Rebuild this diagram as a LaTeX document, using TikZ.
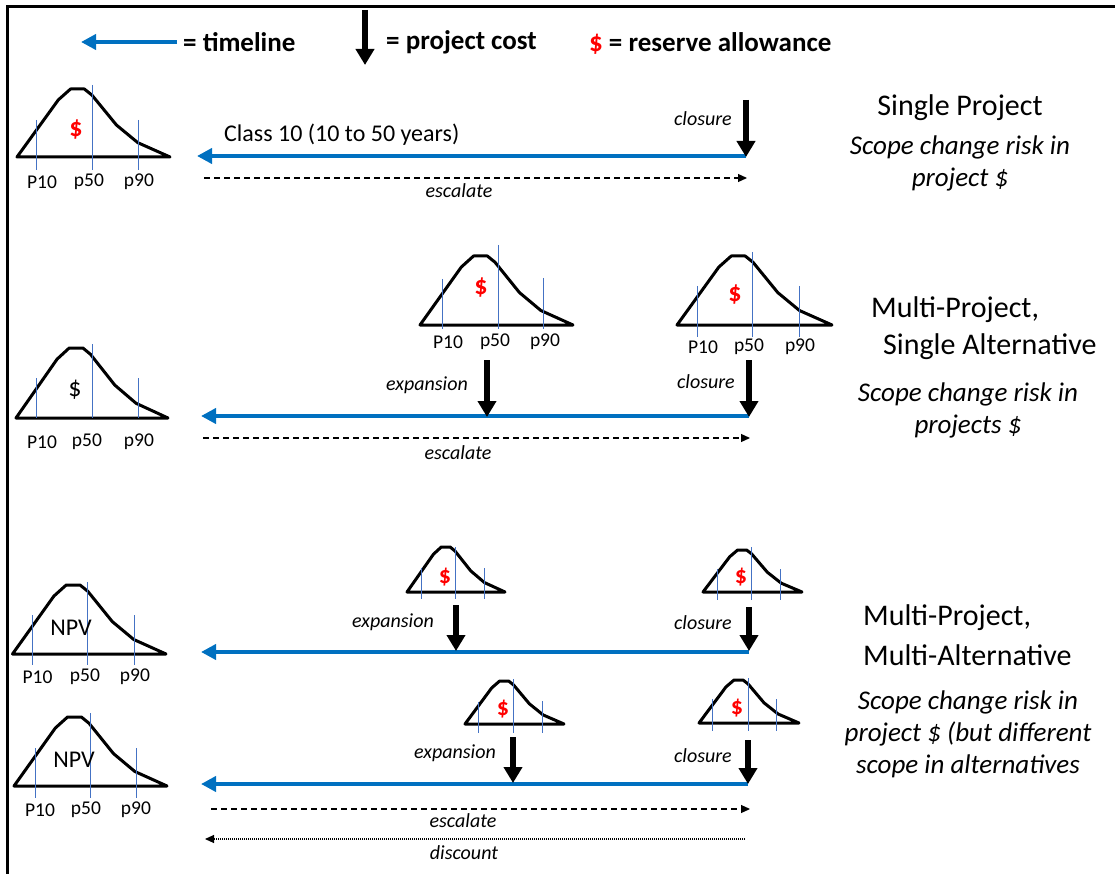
\documentclass[tikz,border=0pt]{standalone}
\usepackage{fontspec}
\setmainfont{Carlito}
\usetikzlibrary{arrows.meta}
\definecolor{tlblue}{RGB}{0,112,192}
\definecolor{pctblue}{RGB}{68,114,196}
\definecolor{resred}{RGB}{255,0,0}

\tikzset{
  frame/.style={line width=3pt, black},
  bell/.style={draw=black, line width=3pt, line join=round},
  pct/.style={draw=pctblue, line width=1pt},
  timeline/.style={draw=tlblue, line width=4.5pt, -{Triangle[length=15pt,width=15pt]}},
  cost/.style={draw=black, line width=5.5pt, -{Triangle[length=16pt,width=18pt]}},
  escal/.style={draw=black, line width=1.2pt, dash pattern=on 6pt off 4pt, -{Triangle[length=9pt,width=8pt]}},
  disc/.style={draw=black, line width=1.1pt, dash pattern=on 1pt off 1pt, -{Triangle[length=9pt,width=8pt]}},
  lbl/.style={inner sep=0pt, font=\fontsize{19.5}{22}\selectfont},
  ital/.style={inner sep=0pt, font=\itshape\fontsize{20}{24}\selectfont},
  title/.style={inner sep=0pt, font=\fontsize{30}{36}\selectfont},
  subt/.style={inner sep=0pt, align=center, font=\itshape\fontsize{27}{32}\selectfont},
  legend/.style={inner sep=0pt, font=\bfseries\fontsize{27}{32}\selectfont},
  reddollar/.style={inner sep=0pt, text=resred, font=\bfseries\fontsize{26}{30}\selectfont},
  smalldollar/.style={inner sep=0pt, text=resred, font=\bfseries\fontsize{24}{28}\selectfont},
  npv/.style={inner sep=0pt, font=\fontsize{24}{28}\selectfont},
}

% skewed bell curve: left end of base (x), base level (y), width, height
\newcommand{\bellshape}[4]{%
  \draw[bell] (#1,#2) -- (#1+0.27*#3,#2-0.84*#4) -- (#1+0.35*#3,#2-#4)
    -- (#1+0.44*#3,#2-#4) -- (#1+0.49*#3,#2-0.91*#4) -- (#1+0.65*#3,#2-0.47*#4)
    -- (#1+0.79*#3,#2-0.21*#4) -- (#1+#3,#2) -- cycle;}
% thin percentile marker: x, top, bottom
\newcommand{\pline}[3]{\draw[pct] (#1,#2) -- (#1,#3);}

\begin{document}
\begin{tikzpicture}[x=1pt, y=-1pt]
\useasboundingbox (0,0) rectangle (1115,874);

% frame
\draw[frame] (7,874) -- (7,7) -- (1115,7);

% ---------- legend ----------
\coordinate (legTa) at (177,42);
\coordinate (legTb) at (81,42);
\draw[timeline] (legTa) -- (legTb);
\node[legend, anchor=west] (legT) at (183,42) {= timeline};
\coordinate (legCa) at (365,10);
\coordinate (legCb) at (365,65);
\draw[cost] (legCa) -- (legCb);
\node[legend, anchor=west] (legC) at (386,42) {= project cost};
\node[legend, anchor=west] (legR) at (589,43) {\textcolor{resred}{\$} = reserve allowance};

% ---------- single project ----------
\bellshape{17}{157}{153}{68}
\pline{36}{120}{170}
\pline{92}{85}{170}
\pline{138}{120}{170}
\node[reddollar] (a1d) at (76,130) {\$};
\node[lbl] (a1p10) at (42,182) {P10};
\node[lbl] (a1p50) at (89,182) {p50};
\node[lbl] (a1p90) at (139,182) {p90};

\coordinate (t1r) at (746,156);
\coordinate (t1l) at (197,156);
\draw[timeline] (t1r) -- (t1l);
\node[inner sep=0pt, anchor=west, font=\fontsize{24}{28}\selectfont] (class) at (224,135) {Class 10 (10 to 50 years)};
\coordinate (c1a) at (746,100);
\coordinate (c1b) at (746,157);
\draw[cost] (c1a) -- (c1b);
\node[ital, anchor=east] (c1t) at (732,119) {closure};
\coordinate (e1a) at (204,178);
\coordinate (e1b) at (747,178);
\draw[escal] (e1a) -- (e1b);
\node[ital] (e1t) at (459,191) {escalate};

\node[title] (ttl1) at (960,108) {Single Project};
\node[subt] (sub1) at (960,163) {Scope change risk in\\project \$};

% ---------- multi-project, single alternative ----------
\bellshape{16}{418}{152}{70}
\pline{36}{378}{418}
\pline{92}{344}{418}
\pline{138}{378}{418}
\node[inner sep=0pt, font=\fontsize{26}{30}\selectfont] (b0d) at (75,390) {\$};
\node[lbl] (b0p10) at (42,442) {P10};
\node[lbl] (b0p50) at (87,442) {p50};
\node[lbl] (b0p90) at (139,442) {p90};

\bellshape{420}{325}{153}{69}
\pline{442}{279}{329}
\pline{498}{245}{329}
\pline{543}{278}{329}
\node[reddollar] (b1d) at (481,288) {\$};
\node[lbl] (b1p10) at (448,342) {P10};
\node[lbl] (b1p50) at (495,342) {p50};
\node[lbl] (b1p90) at (545,342) {p90};

\bellshape{677}{325}{155}{69}
\pline{697}{286}{337}
\pline{752}{252}{337}
\pline{799}{286}{337}
\node[reddollar] (b2d) at (735,295) {\$};
\node[lbl] (b2p10) at (703,347) {P10};
\node[lbl] (b2p50) at (749,347) {p50};
\node[lbl] (b2p90) at (800,347) {p90};

\coordinate (t2r) at (749,416);
\coordinate (t2l) at (201,416);
\draw[timeline] (t2r) -- (t2l);
\coordinate (x2a) at (487,360);
\coordinate (x2b) at (487,417);
\draw[cost] (x2a) -- (x2b);
\node[ital, anchor=east] (x2t) at (468,385) {expansion};
\coordinate (c2a) at (749,360);
\coordinate (c2b) at (749,417);
\draw[cost] (c2a) -- (c2b);
\node[ital, anchor=east] (c2t) at (735,382) {closure};
\coordinate (e2a) at (203,438);
\coordinate (e2b) at (750,438);
\draw[escal] (e2a) -- (e2b);
\node[ital] (e2t) at (458,453) {escalate};

\node[title, anchor=west] (ttl2a) at (871,310) {Multi-Project,};
\node[title, anchor=west] (ttl2b) at (883,347) {Single Alternative};
\node[subt] (sub2) at (968,410) {Scope change risk in\\projects \$};

% ---------- multi-project, multi-alternative ----------
\bellshape{12.5}{654}{153.5}{69}
\pline{32}{615}{665}
\pline{87.5}{582}{665}
\pline{134}{615}{665}
\node[npv] (c0n) at (71,628) {NPV};
\node[lbl] (c0p10) at (37.5,677) {P10};
\node[lbl] (c0p50) at (85,677) {p50};
\node[lbl] (c0p90) at (135,677) {p90};

\bellshape{407}{592}{98}{45}
\pline{421}{568}{599}
\pline{455}{547}{599}
\pline{484}{568}{599}
\node[smalldollar] (c1d) at (445,577) {\$};

\bellshape{703}{592}{99}{42}
\pline{717}{569}{600}
\pline{751}{547}{600}
\pline{780}{569}{600}
\node[smalldollar] (c2d) at (741,577) {\$};

\coordinate (t3r) at (749,652);
\coordinate (t3l) at (201,652);
\draw[timeline] (t3r) -- (t3l);
\coordinate (x3a) at (456,605);
\coordinate (x3b) at (456,651);
\draw[cost] (x3a) -- (x3b);
\node[ital, anchor=east] (x3t) at (434,622) {expansion};
\coordinate (c3a) at (749,607);
\coordinate (c3b) at (749,651);
\draw[cost] (c3a) -- (c3b);
\node[ital, anchor=east] (c3t) at (732,623) {closure};

\bellshape{14}{786}{153}{69}
\pline{35}{748}{798}
\pline{90}{713}{798}
\pline{136}{748}{798}
\node[npv] (d0n) at (74,760) {NPV};
\node[lbl] (d0p10) at (40,810) {P10};
\node[lbl] (d0p50) at (86,810) {p50};
\node[lbl] (d0p90) at (136,810) {p90};

\bellshape{465}{724}{99}{43}
\pline{478}{702}{733}
\pline{513}{679}{733}
\pline{542}{701}{733}
\node[smalldollar] (d1d) at (503,709) {\$};

\bellshape{699}{723}{100}{43}
\pline{712}{699}{731}
\pline{748}{678}{731}
\pline{776}{699}{731}
\node[smalldollar] (d2d) at (737,708) {\$};

\coordinate (t4r) at (748,784);
\coordinate (t4l) at (201,784);
\draw[timeline] (t4r) -- (t4l);
\coordinate (x4a) at (513,737);
\coordinate (x4b) at (513,783);
\draw[cost] (x4a) -- (x4b);
\node[ital, anchor=east] (x4t) at (496,753) {expansion};
\coordinate (c4a) at (748,740);
\coordinate (c4b) at (748,784);
\draw[cost] (c4a) -- (c4b);
\node[ital, anchor=east] (c4t) at (732,756) {closure};
\coordinate (e4a) at (211,809);
\coordinate (e4b) at (750,809);
\draw[escal] (e4a) -- (e4b);
\node[ital] (e4t) at (463,821) {escalate};
\coordinate (dsa) at (745,839);
\coordinate (dsb) at (205,839);
\draw[disc] (dsa) -- (dsb);
\node[ital] (dst) at (464,853) {discount};

\node[title, anchor=west] (ttl3a) at (863,618) {Multi-Project,};
\node[title, anchor=west] (ttl3b) at (863,655) {Multi-Alternative};
\node[subt] (sub3) at (968,734) {Scope change risk in\\project \$ (but different\\scope in alternatives};
\end{tikzpicture}
\end{document}
